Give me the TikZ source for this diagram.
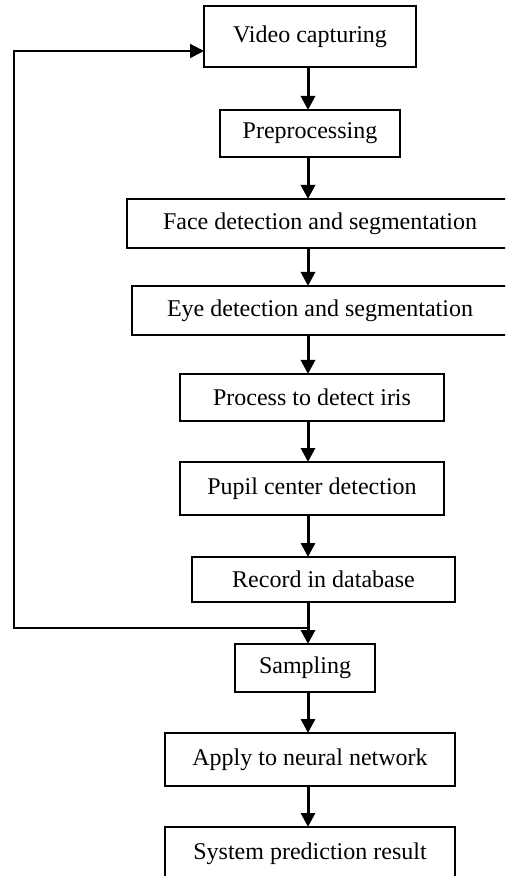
\documentclass[tikz,border=0pt]{standalone}
\usepackage{fontspec}
\setmainfont{Liberation Serif}
\usetikzlibrary{positioning,calc,arrows.meta}

\tikzset{
	stage/.style={draw=black,line width=0.65pt,inner sep=0pt,outer sep=0pt,align=center,font=\fontsize{12}{14}\selectfont},
	flow/.style={-{Triangle[width=7pt,length=7pt]},line width=1.5pt},
	backline/.style={-{Triangle[width=7pt,length=7pt]},line width=1pt}
}

\begin{document}
\begin{tikzpicture}
			\clip (0,0) rectangle (252.5pt,-438pt);
			\useasboundingbox (0,0) rectangle (252.5pt,-438pt);
			
			\node[stage,minimum width=106pt,minimum height=30.5pt] (video) at (155pt,-18.25pt) {Video capturing};
			\node[stage,minimum width=90pt,minimum height=23.5pt,below=21.5pt of video] (prep) {Preprocessing};
			\node[stage,minimum width=193pt,minimum height=24.5pt,below=21pt of prep,xshift=5pt] (face) {Face detection and segmentation};
			\node[stage,minimum width=188pt,minimum height=24.5pt,below=19pt of face] (eye) {Eye detection and segmentation};
			\node[stage,minimum width=132pt,minimum height=23.5pt,below=19.5pt of eye,xshift=-4pt] (iris) {Process to detect iris};
			\node[stage,minimum width=132pt,minimum height=26.5pt,below=20.5pt of iris] (pupil) {Pupil center detection};
			\node[stage,minimum width=131.5pt,minimum height=22.5pt,below=21pt of pupil,xshift=5.75pt] (record) {Record in database};
			\node[stage,minimum width=70pt,minimum height=24pt,below=21pt of record,xshift=-9.25pt] (sampling) {Sampling};
			\node[stage,minimum width=145pt,minimum height=26.5pt,below=20.5pt of sampling,xshift=2.5pt] (neural) {Apply to neural network};
			\node[stage,minimum width=145pt,minimum height=26.5pt,below=20.5pt of neural] (result) {System prediction result};
			
			% vertical line of the arrows
			\coordinate (spine) at (154pt,0);
			\coordinate (back) at (7pt,-314pt);
			
			\draw[flow] (video.south -| spine)--(prep.north -| spine);
			\draw[flow] (prep.south -| spine)--(face.north -| spine);
			\draw[flow] (face.south -| spine)--(eye.north -| spine);
			\draw[flow] (eye.south -| spine)--(iris.north -| spine);
			\draw[flow] (iris.south -| spine)--(pupil.north -| spine);
			\draw[flow] (pupil.south -| spine)--(record.north -| spine);
			\draw[flow] (record.south -| spine)--(sampling.north -| spine);
			\draw[flow] (sampling.south -| spine)--(neural.north -| spine);
			\draw[flow] (neural.south -| spine)--(result.north -| spine);
			
			% feedback to the camera
			\draw[backline] (back -| spine)--(back)|-([yshift=-7.25pt]video.west);
		\end{tikzpicture}
\end{document}
